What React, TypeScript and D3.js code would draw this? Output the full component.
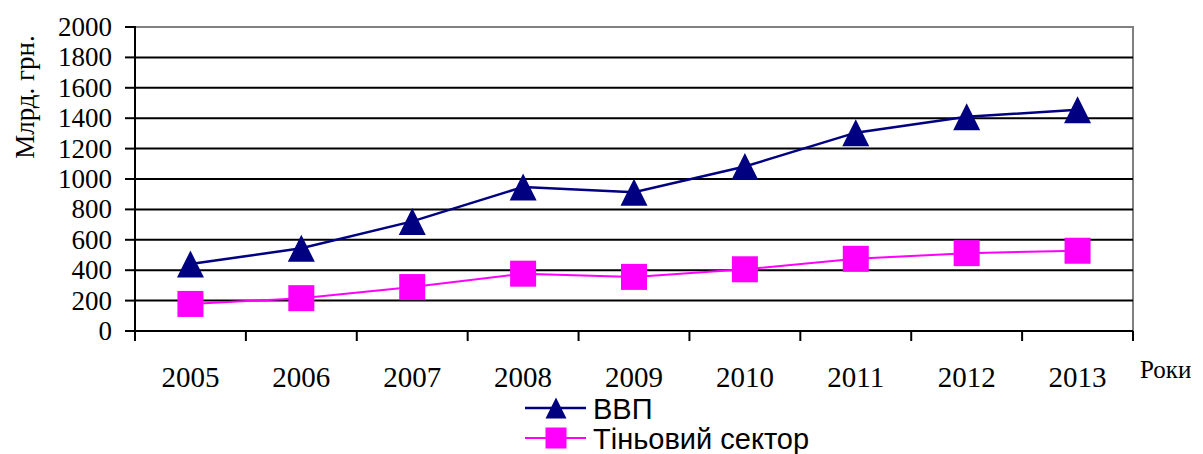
import React from "react";
import * as d3 from "d3";

const years = ["2005", "2006", "2007", "2008", "2009", "2010", "2011", "2012", "2013"];
const gdp = [441, 544, 721, 948, 913, 1082, 1305, 1410, 1455];
const shadow = [178, 216, 289, 377, 356, 406, 475, 512, 528];
const yTicks = [0, 200, 400, 600, 800, 1000, 1200, 1400, 1600, 1800, 2000];
const seriesNames = ["ВВП", "Тіньовий сектор"];
const yLabel = "Млрд. грн.";
const xLabel = "Роки";

const W = 1203;
const H = 454;
const left = 135;
const right = 1133;
const top = 27;
const bottom = 331;

const serif = "'Liberation Serif', 'Times New Roman', serif";
const sans = "'Liberation Sans', Arial, sans-serif";

function Triangle({ cx, cy, s, fill }: { cx: number; cy: number; s: number; fill: string }) {
  const h = s;
  return (
    <path
      d={`M${cx},${cy - h / 2} L${cx + s / 2},${cy + h / 2} L${cx - s / 2},${cy + h / 2} Z`}
      fill={fill}
    />
  );
}

export default function App() {
  const x = d3.scaleBand<string>().domain(years).range([left, right]).padding(0);
  const y = d3.scaleLinear().domain([0, 2000]).range([bottom, top]);
  const cx = (yr: string) => (x(yr) as number) + x.bandwidth() / 2;

  const line = d3
    .line<number>()
    .x((_, i) => cx(years[i]))
    .y((v) => y(v));

  const boundaries = years.map((yr) => x(yr) as number).concat([right]);

  return (
    <svg width={W} height={H} style={{ position: "absolute", left: 0, top: 0, background: "#fff" }}>
      <rect x={0} y={0} width={W} height={H} fill="#fff" />
      {/* plot border */}
      <rect x={left} y={y(2000)} width={right - left} height={bottom - y(2000)} fill="none" stroke="#808080" strokeWidth={2} />
      {/* gridlines */}
      {yTicks
        .filter((t) => t > 0 && t < 2000)
        .map((t) => (
          <line key={t} x1={left} x2={right} y1={y(t)} y2={y(t)} stroke="#000" strokeWidth={2} />
        ))}
      {/* axes */}
      <line x1={left} x2={left} y1={top - 1} y2={bottom + 10} stroke="#000" strokeWidth={2} />
      <line x1={left - 10} x2={right} y1={bottom} y2={bottom} stroke="#000" strokeWidth={2} />
      {yTicks.map((t) => (
        <g key={t}>
          <line x1={left - 10} x2={left} y1={y(t)} y2={y(t)} stroke="#000" strokeWidth={2} />
          <text x={112} y={y(t) + 9} textAnchor="end" fontFamily={serif} fontSize={27} fill="#000">
            {t}
          </text>
        </g>
      ))}
      {boundaries.map((b, i) => (
        <line key={i} x1={b} x2={b} y1={bottom} y2={bottom + 10} stroke="#000" strokeWidth={2} />
      ))}
      {years.map((yr) => (
        <text key={yr} x={cx(yr)} y={387} textAnchor="middle" fontFamily={serif} fontSize={29} fill="#000">
          {yr}
        </text>
      ))}
      <text x={1140} y={378} fontFamily={serif} fontSize={25} fill="#000">
        {xLabel}
      </text>
      <text
        transform={`translate(34, 97) rotate(-90)`}
        textAnchor="middle"
        fontFamily={serif}
        fontSize={27}
        fill="#000"
      >
        {yLabel}
      </text>

      {/* series */}
      <path d={line(gdp) || ""} fill="none" stroke="#000080" strokeWidth={2.5} />
      <path d={line(shadow) || ""} fill="none" stroke="#FF00FF" strokeWidth={2} />
      {shadow.map((v, i) => (
        <rect key={i} x={cx(years[i]) - 13} y={y(v) - 13} width={26} height={26} fill="#FF00FF" />
      ))}
      {gdp.map((v, i) => (
        <Triangle key={i} cx={cx(years[i])} cy={y(v)} s={27} fill="#000080" />
      ))}

      {/* legend */}
      <line x1={525} x2={586} y1={408} y2={408} stroke="#000080" strokeWidth={2.5} />
      <Triangle cx={556} cy={408} s={21} fill="#000080" />
      <text x={593} y={419} fontFamily={sans} fontSize={29} fill="#000">
        {seriesNames[0]}
      </text>
      <line x1={525} x2={586} y1={438} y2={438} stroke="#FF00FF" strokeWidth={2} />
      <rect x={545.5} y={427.5} width={21} height={21} fill="#FF00FF" />
      <text x={593} y={449} fontFamily={sans} fontSize={29} fill="#000">
        {seriesNames[1]}
      </text>
    </svg>
  );
}
